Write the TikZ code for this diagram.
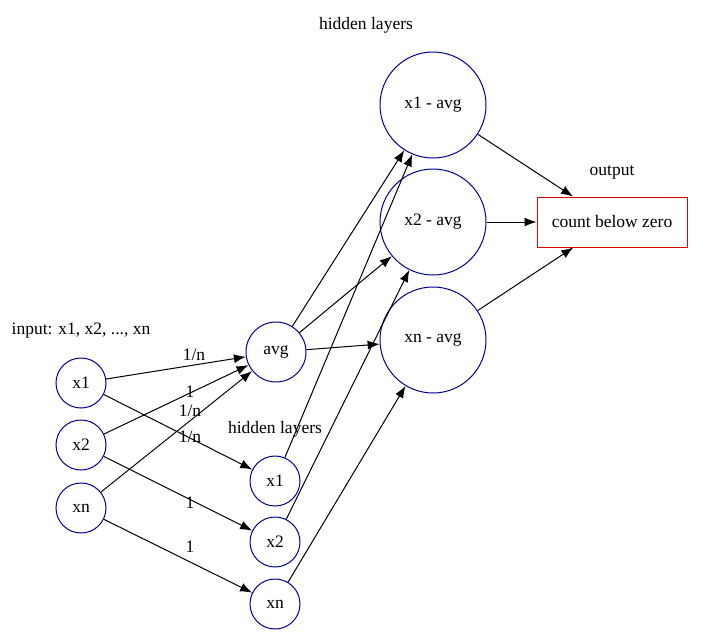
\documentclass[tikz,border=0pt]{standalone}
\usepackage{fontspec}
\setmainfont{Liberation Serif}
\usetikzlibrary{arrows.meta}

\begin{document}
\begin{tikzpicture}[
    x=1pt, y=-1pt, line width=1pt,
    every node/.style={font=\fontsize{17.5}{20}\selectfont},
    unit/.style={draw={rgb,255:red,0;green,0;blue,150}, circle, minimum size=#1, inner sep=0pt},
    outbox/.style={draw={rgb,255:red,230;green,0;blue,0}, minimum width=150pt, minimum height=50pt},
    to/.style={-{Latex[length=12pt,width=9pt]}}
    ]
    \useasboundingbox (0,0) rectangle (712,643);

    % input layer
    \node[unit=50pt] (x1) at (81,383) {x1};
    \node[unit=50pt] (x2) at (81,445) {x2};
    \node[unit=50pt] (xn) at (81,508) {xn};
    \node (lin) at (81,331) {input: x1, x2, ..., xn};

    % first hidden layer
    \node[unit=60pt] (avg) at (276,352) {avg};
    \node[unit=50pt] (h1) at (275,481) {x1};
    \node[unit=50pt] (h2) at (275,542) {x2};
    \node[unit=50pt] (hn) at (275,604) {xn};
    \node (lh) at (275,429) {hidden layers};

    % second hidden layer
    \node[unit=106pt] (d1) at (433,105) {x1 - avg};
    \node[unit=106pt] (d2) at (433,222) {x2 - avg};
    \node[unit=106pt] (dn) at (433,340) {xn - avg};
    \node (ld) at (366,25) {hidden layers};

    % output
    \node[outbox] (out) at (612,222) {count below zero};
    \node (lo) at (612,172) {output};

    \draw[to] (x1) -- (avg);
    \draw[to] (x2) -- (avg);
    \draw[to] (xn) -- (avg);
    \draw[to] (x1) -- (h1);
    \draw[to] (x2) -- (h2);
    \draw[to] (xn) -- (hn);
    \node (w1) at (194,355) {1/n};
    \node (w2) at (190,411) {1/n};
    \node (w3) at (190,437) {1/n};
    \node (w4) at (190,392) {1};
    \node (w5) at (190,503) {1};
    \node (w6) at (190,547) {1};

    \draw[to] (avg) -- (d1);
    \draw[to] (avg) -- (d2);
    \draw[to] (avg) -- (dn);
    \draw[to] (h1) -- (d1);
    \draw[to] (h2) -- (d2);
    \draw[to] (hn) -- (dn);

    \draw[to] (d1) -- (out);
    \draw[to] (d2) -- (out);
    \draw[to] (dn) -- (out);
\end{tikzpicture}
\end{document}
